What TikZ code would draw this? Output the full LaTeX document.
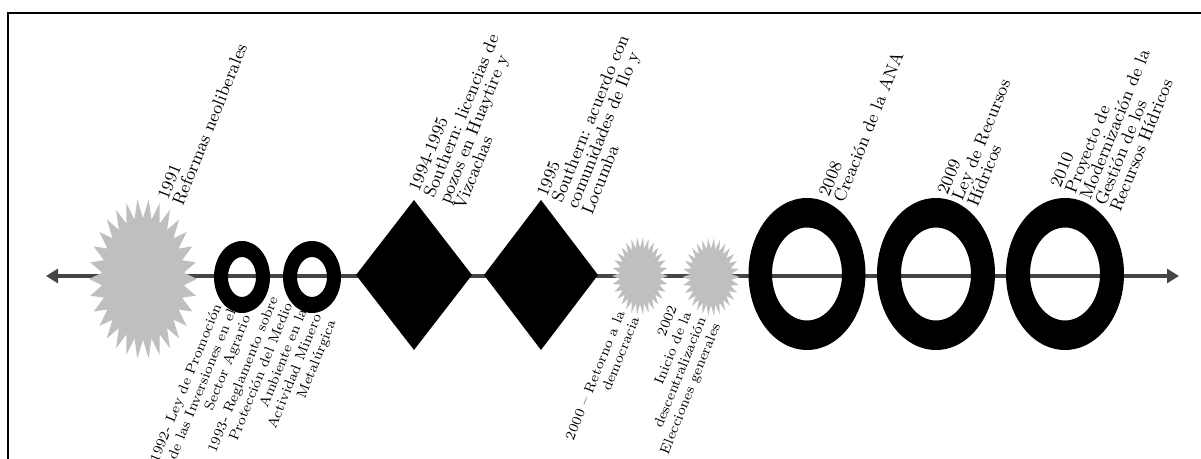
\documentclass[tikz,border=0pt]{standalone}
\usepackage{fontspec}
\usetikzlibrary{arrows.meta}
\definecolor{burstgray}{HTML}{BFBFBF}
\definecolor{axisgray}{HTML}{454545}
\tikzset{
  uplab/.style={rotate=68, anchor=west, align=left, inner sep=0pt,
    font=\fontsize{8.8}{8.1}\selectfont},
  lowlab/.style={rotate=68, anchor=east, align=right, inner sep=0pt,
    font=\fontsize{7.0}{7.8}\selectfont},
  axisline/.style={draw=axisgray, line width=2.25pt,
    {Triangle[length=6pt,width=7pt]}-{Triangle[length=6pt,width=7pt]}},
  ringfill/.style={fill=black, even odd rule},
  burstfill/.style={fill=burstgray},
  diamfill/.style={fill=black},
  frameline/.style={draw=black, line width=1pt},
}
% starburst: centre, rx, ry, inner ratio
\newcommand\starburst[4]{%
  \fill[burstfill,shift={(#1)}] (#2,0)
    \foreach \k in {1,...,59}{
      -- ({(1-(1-#4)*mod(\k,2))*#2*cos(6*\k)},{(1-(1-#4)*mod(\k,2))*#3*sin(6*\k)})
    } -- cycle;}
% ring: centre, outer rx, outer ry, inner rx, inner ry (pixels)
\newcommand\ringmark[5]{%
  \fill[ringfill] (#1) ellipse [x radius=#2*0.5pt, y radius=#3*0.5pt]
                  (#1) ellipse [x radius=#4*0.5pt, y radius=#5*0.5pt];}
% diamond: centre, half width, half height (pixels)
\newcommand\diamondmark[3]{%
  \fill[diamfill] (#1) ++(-#2,0) -- ++(#2,#3) -- ++(#2,-#3) -- ++(-#2,-#3) -- cycle;}
\begin{document}
\begin{tikzpicture}[x=0.5pt,y=-0.5pt]
\useasboundingbox (0,0) rectangle (1201,459);
% frame (cropped)
\coordinate (fB) at (8,459);
\coordinate (fC) at (8,13);
\coordinate (fR) at (1201,13);
\draw[frameline] (fB) -- (fC) -- (fR);
% axis
\coordinate (aL) at (46,276);
\coordinate (aR) at (1179,276);
\draw[axisline] (aL) -- (aR);
% marker centres
\coordinate (m1991) at (143,279);
\coordinate (m1992) at (242,277);
\coordinate (m1993) at (312,277);
\coordinate (m1994) at (414,275);
\coordinate (m1995) at (541,275);
\coordinate (m2000) at (640,276);
\coordinate (m2002) at (711,277);
\coordinate (m2008) at (807,274);
\coordinate (m2009) at (936,274);
\coordinate (m2010) at (1065,274);
% markers
\starburst{m1991}{54}{80}{0.76}
\ringmark{m1992}{28}{36}{14}{20}
\ringmark{m1993}{29}{36}{15}{20}
\diamondmark{m1994}{58}{75}
\diamondmark{m1995}{57}{75}
\starburst{m2000}{28}{39}{0.72}
\starburst{m2002}{28.5}{39}{0.72}
\ringmark{m2008}{58.5}{76}{35}{46.5}
\ringmark{m2009}{59}{76}{35}{46.5}
\ringmark{m2010}{59}{76}{35}{46.5}
% upper labels
\node[uplab] (l1991) at (170,202) {\oldstylenums{1991}\\Reformas neoliberales};
\node[uplab] (l1994) at (436,200) {\oldstylenums{1994-1995}\\Southern: licencias de\\pozos en Huaytire y\\Vizcachas};
\node[uplab] (l1995) at (564,205) {\oldstylenums{1995}\\Southern: acuerdo con\\comunidades de Ilo y\\Locumba};
\node[uplab] (l2008) at (831,199) {\oldstylenums{2008}\\Creación de la ANA};
\node[uplab] (l2009) at (957,200) {\oldstylenums{2009}\\Ley de Recursos\\Hídricos};
\node[uplab] (l2010) at (1085,199) {\oldstylenums{2010}\\Proyecto de\\Modernización de la\\Gestión de los\\Recursos Hídricos};
% lower labels
\node[lowlab] (l1992) at (233,310) {1992- Ley de Promoción\\de las Inversiones en el\\Sector Agrario};
\node[lowlab] (l1993) at (304,309) {1993- Reglamento sobre\\Protección del Medio\\Ambiente en la\\Actividad Minero\\Metalúrgica};
\node[lowlab] (l2000) at (628,314) {2000 – Retorno a la\\democracia};
\node[lowlab] (l2002) at (696,315) {2002\\Inicio de la\\descentralización\\Elecciones generales};
\end{tikzpicture}
\end{document}
